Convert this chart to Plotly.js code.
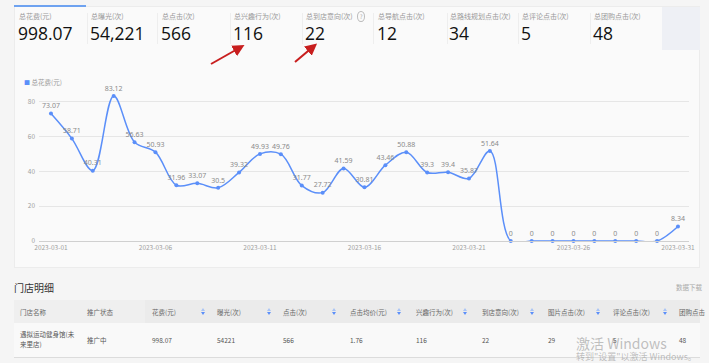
<!DOCTYPE html>
<html><head><meta charset="utf-8">
<script src="https://cdn.plot.ly/plotly-3.0.1.min.js"></script>
<style>
html,body{margin:0;padding:0;width:709px;height:363px;overflow:hidden;background:#f5f5f5;font-family:"Noto Sans CJK SC","Noto Sans",sans-serif;}
.abs{position:absolute;white-space:nowrap;}
#panel{position:absolute;left:14px;top:6px;width:686px;height:262px;background:#fafafa;border:1px solid #ececec;box-sizing:border-box;}
.lab{position:absolute;font-size:7px;color:#999;}
.val{position:absolute;font-size:17.5px;color:#111;font-family:"Open Sans","Noto Sans",sans-serif;}
.div{position:absolute;width:1px;background:#eeeeee;top:13px;height:31px;}
.th{position:absolute;font-size:6.5px;color:#666;}
.td{position:absolute;font-size:6.5px;color:#555;}
.sort{position:absolute;width:4px;height:8px;}
.sort:before{content:"";position:absolute;left:0;top:0;border-left:2px solid transparent;border-right:2px solid transparent;border-bottom:3px solid #a9c4f5;}
.sort:after{content:"";position:absolute;left:0;top:4px;border-left:2px solid transparent;border-right:2px solid transparent;border-top:3px solid #5b8ff9;}
#chart{position:absolute;left:0;top:60px;width:709px;height:210px;}
</style></head>
<body>
<div id="panel"></div>
<div class="abs" style="left:14px;top:5px;width:72px;height:2px;background:#6ea2f0;"></div>
<div class="abs" style="left:662px;top:7px;width:38px;height:43px;background:#eef0f5;"></div>
<div id="stats"></div>
<div id="chart"></div>
<div class="abs" style="left:14px;top:280px;font-size:10px;color:#333;">门店明细</div>
<div class="abs" style="left:676px;top:282px;font-size:6.5px;color:#aaa;">数据下载</div>
<div class="abs" style="left:14px;top:300px;width:686px;height:23px;background:#efefef;"></div>
<div class="abs" style="left:145px;top:300px;width:555px;height:23px;background:#ebebeb;"></div>
<div class="abs" style="left:14px;top:323px;width:686px;height:34px;background:#f9f9f9;border-bottom:1px solid #dcdcdc;"></div>
<div id="table"></div>
<div class="abs" style="left:576px;top:333px;font-size:14px;color:rgba(140,140,140,0.55);font-family:'Noto Sans CJK SC';">激活 Windows</div>
<div class="abs" style="left:576px;top:350px;font-size:9px;color:rgba(140,140,140,0.55);">转到"设置"以激活 Windows。</div>
<svg class="abs" style="left:0;top:0;" width="709" height="363">
<defs><marker id="ah" markerWidth="6" markerHeight="6" refX="4" refY="3" orient="auto"><path d="M0,0 L6,3 L0,6 z" fill="#c81e1e"/></marker></defs>
<line x1="211" y1="64" x2="241" y2="47" stroke="#c81e1e" stroke-width="2" marker-end="url(#ah)"/>
<line x1="295" y1="62" x2="314" y2="46" stroke="#c81e1e" stroke-width="2" marker-end="url(#ah)"/>
</svg>
<script>
// stats cards
const statLabels = ["总花费(元)","总曝光(次)","总点击(次)","总兴趣行为(次)","总到店意向(次)","总导航点击(次)","总路线规划点击(次)","总评论点击(次)","总团购点击(次)"];
const statValues = ["998.07","54,221","566","116","22","12","34","5","48"];
// chart data
const dates = ["2023-03-01","2023-03-02","2023-03-03","2023-03-04","2023-03-05","2023-03-06","2023-03-07","2023-03-08","2023-03-09","2023-03-10","2023-03-11","2023-03-12","2023-03-13","2023-03-14","2023-03-15","2023-03-16","2023-03-17","2023-03-18","2023-03-19","2023-03-20","2023-03-21","2023-03-22","2023-03-23","2023-03-24","2023-03-25","2023-03-26","2023-03-27","2023-03-28","2023-03-29","2023-03-30","2023-03-31"];
const spend = [73.07,58.71,40.31,83.12,56.63,50.93,31.96,33.07,30.5,39.32,49.93,49.76,31.77,27.72,41.59,30.81,43.46,50.88,39.3,39.4,35.87,51.64,0,0,0,0,0,0,0,0,8.34];
const seriesName = "总花费(元)";
// table
const tableHeaders = ["门店名称","推广状态","花费(元)","曝光(次)","点击(次)","点击均价(元)","兴趣行为(次)","到店意向(次)","图片点击(次)","评论点击(次)","团购点击"];
const tableRow = ["遇拟运动健身馆(未\n来里店)","推广中","998.07","54221","566","1.76","116","22","29","5","48"];

const labX=[19,91,162,234,306,378,450,522,594];
const divX=[87,157,230,302,373,447,518,590];
const st=document.getElementById('stats');
let h='';
statLabels.forEach((l,i)=>{
  h+=`<div class="lab" style="left:${labX[i]}px;top:11px;">${l}${i===4?' <span style="font-size:6px;color:#aaa;border:1px solid #bbb;border-radius:50%;padding:0 1.5px;margin-left:3px;">?</span>':''}</div>`;
  h+=`<div class="val" style="left:${labX[i]-1}px;top:21px;">${statValues[i]}</div>`;
});
divX.forEach(x=>{h+=`<div class="div" style="left:${x}px;"></div>`;});
st.innerHTML=h;

const colX=[20,87,152,217,283,350,416,482,548,613,679];
const sortX=[201,267,332,397,463,530,596,663];
let t='';
tableHeaders.forEach((c,i)=>{t+=`<div class="th" style="left:${colX[i]}px;top:307px;">${c}</div>`;});
sortX.forEach(x=>{t+=`<div class="sort" style="left:${x}px;top:308px;"></div>`;});
tableRow.forEach((c,i)=>{
  if(i===0){t+=`<div class="td" style="left:${colX[i]}px;top:329px;line-height:10px;white-space:pre;">${c}</div>`;}
  else t+=`<div class="td" style="left:${colX[i]}px;top:335px;">${c}</div>`;
});
document.getElementById('table').innerHTML=t;

const blue="#5b8ff9";
const traces=[{
  x:dates,y:spend,type:'scatter',mode:'lines+markers+text',name:seriesName,
  line:{shape:'spline',smoothing:1,color:blue,width:1.5},
  marker:{size:4,color:blue},
  text:spend.map(v=>String(v)),textposition:'top center',
  textfont:{size:7,color:'#8a8a8a',family:'Noto Sans'},
  showlegend:false,hoverinfo:'x+y',cliponaxis:false
}];
const layout={
  width:709,height:210,
  margin:{l:39,r:20,t:23.5,b:28.5},
  paper_bgcolor:'rgba(0,0,0,0)',plot_bgcolor:'rgba(0,0,0,0)',
  font:{family:'Noto Sans CJK SC, Noto Sans',size:7,color:'#999'},
  xaxis:{type:'date',range:['2023-02-28 10:15','2023-03-31 12:40'],
    tick0:'2023-03-01',dtick:5*86400000,tickformat:'%Y-%m-%d',
    showgrid:false,showline:true,linecolor:'#d0d0d0',linewidth:1,
    ticks:'',tickfont:{size:6.5,color:'#a0a0a0'},zeroline:false,fixedrange:true},
  yaxis:{range:[0,90],tickvals:[0,20,40,60,80],showgrid:true,gridcolor:'#e6e6e6',gridwidth:1,
    zeroline:false,showline:false,ticks:'',tickfont:{size:6.5,color:'#a0a0a0'},ticklabelstandoff:3},
  annotations:[{xref:'paper',yref:'paper',x:(22-39)/650,y:1+(23.5-21)/158,xanchor:'left',yanchor:'middle',showarrow:false,
    text:`<span style="color:${blue};font-size:6px">■</span> ${seriesName}`,font:{size:6.5,color:'#999',family:'Noto Sans CJK SC'}}],
  showlegend:false
};
Plotly.newPlot('chart',traces,layout,{displayModeBar:false,staticPlot:true});
</script>
</body></html>
